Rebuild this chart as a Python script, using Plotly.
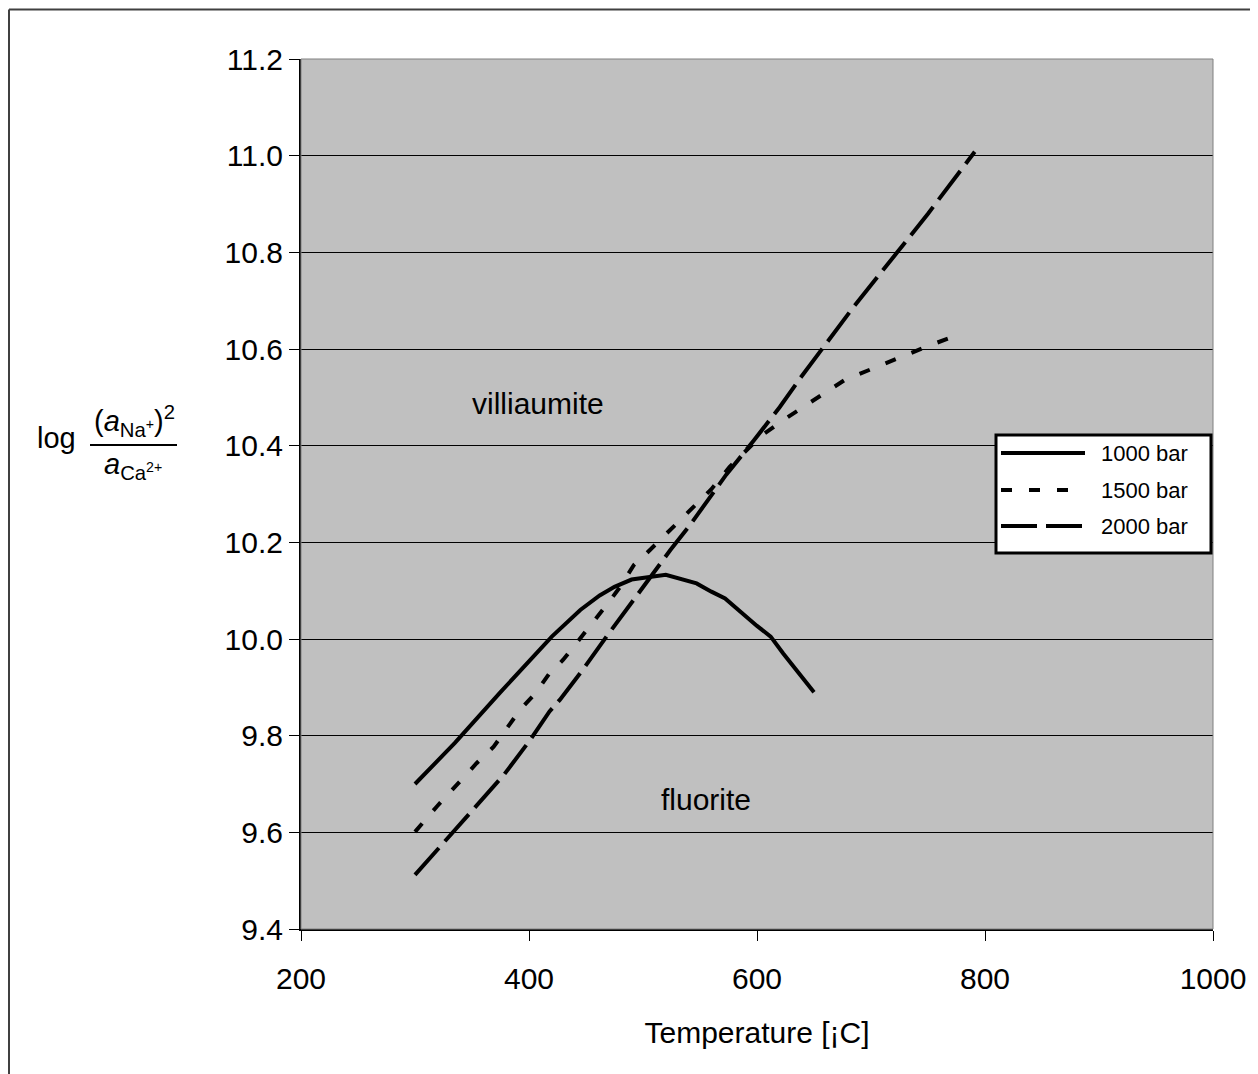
import plotly.graph_objects as go

# ---------------- data ----------------
series_names = ["1000 bar", "1500 bar", "2000 bar"]

t_1000 = [300, 335, 375, 400, 420, 445, 462, 475, 490, 520, 547, 560, 572, 600, 612, 623, 635, 650]
v_1000 = [9.70, 9.785, 9.89, 9.955, 10.005, 10.06, 10.09, 10.108, 10.123, 10.133, 10.115, 10.098,
          10.084, 10.027, 10.005, 9.97, 9.935, 9.89]

t_1500 = [300, 319, 342, 354, 369, 380, 392, 405, 418, 430, 445, 455, 468, 480, 492, 503, 515, 530,
          560, 576, 603, 623, 649, 677, 702, 727, 752, 781]
v_1500 = [9.601, 9.653, 9.712, 9.743, 9.777, 9.812, 9.853, 9.886, 9.929, 9.957, 10.001, 10.029, 10.07,
          10.108, 10.153, 10.177, 10.205, 10.24, 10.31, 10.356, 10.419, 10.453, 10.494, 10.536, 10.56,
          10.584, 10.608, 10.633]

t_2000 = [300, 322, 348, 366, 378, 401, 418, 427, 448, 468, 497, 524, 541, 573, 597, 620, 638, 667,
          685, 723, 750, 791]
v_2000 = [9.512, 9.57, 9.639, 9.688, 9.719, 9.791, 9.85, 9.874, 9.939, 10.005, 10.098, 10.184, 10.235,
          10.34, 10.41, 10.48, 10.54, 10.63, 10.688, 10.80, 10.88, 11.008]

x_ticks = [200, 400, 600, 800, 1000]
y_ticks = [9.4, 9.6, 9.8, 10.0, 10.2, 10.4, 10.6, 10.8, 11.0, 11.2]

region_labels = ["villiaumite", "fluorite"]
region_x = [408, 555]
region_y = [10.488, 9.667]

# ---------------- styling ----------------
W, H = 1258, 1074
OFF = 8  # page body margin
# plot area in page coordinates
L, R, T, B = 301, 1213, 59, 929
dashes = ["solid", "11px,17px", "36px,9px"]
FONT = "Liberation Sans, Arial, sans-serif"


def px(x):
    return (x - L) / (R - L)


def py(y):
    return (B - y) / (B - T)


fig = go.Figure()
for name, xs, ys, d in zip(series_names, [t_1000, t_1500, t_2000], [v_1000, v_1500, v_2000], dashes):
    fig.add_trace(go.Scatter(x=xs, y=ys, mode="lines", name=name, showlegend=False,
                             line=dict(color="black", width=4, dash=d)))

shapes = []
annotations = []

# plot-area border (grey)
shapes.append(dict(type="rect", xref="paper", yref="paper", x0=0, x1=1, y0=0, y1=1,
                   line=dict(color="#808080", width=1), layer="above"))

# outer frame (page coordinates)
shapes.append(dict(type="line", xref="paper", yref="paper", x0=px(9), x1=px(1400), y0=py(9.5), y1=py(9.5),
                   line=dict(color="#404040", width=2)))
shapes.append(dict(type="line", xref="paper", yref="paper", x0=px(9), x1=px(9), y0=py(9.5), y1=py(1200),
                   line=dict(color="#404040", width=2)))

# legend drawn from the series lists
lx0, lx1, ly0, ly1 = 996, 1211, 435, 553
shapes.append(dict(type="rect", xref="paper", yref="paper", x0=px(lx0), x1=px(lx1), y0=py(ly1), y1=py(ly0),
                   fillcolor="white", line=dict(color="black", width=3), layer="above"))
row_y = [453, 490, 526]
for name, d, ry in zip(series_names, dashes, row_y):
    shapes.append(dict(type="line", xref="paper", yref="paper", x0=px(1001), x1=px(1085), y0=py(ry), y1=py(ry),
                       line=dict(color="black", width=4, dash=d), layer="above"))
    annotations.append(dict(xref="paper", yref="paper", x=px(1099), y=py(ry), text=name, showarrow=False,
                            xanchor="left", yanchor="middle", font=dict(family=FONT, size=22, color="black")))

# region labels
for txt, rx, ry in zip(region_labels, region_x, region_y):
    annotations.append(dict(x=rx, y=ry, xref="x", yref="y", text=txt, showarrow=False,
                            font=dict(family=FONT, size=30, color="black")))

# y-axis label: log (a_Na+)^2 / a_Ca2+
annotations.append(dict(xref="paper", yref="paper", x=px(56), y=py(438), text="log", showarrow=False,
                        xanchor="center", yanchor="middle", font=dict(family=FONT, size=29, color="black")))
annotations.append(dict(xref="paper", yref="paper", x=px(134), y=py(443),
                        text="(<i>a</i><sub>Na<sup>+</sup></sub>)<sup>2</sup>", showarrow=False,
                        xanchor="center", yanchor="bottom", font=dict(family=FONT, size=29, color="black")))
annotations.append(dict(xref="paper", yref="paper", x=px(133), y=py(446),
                        text="<i>a</i><sub>Ca<sup>2+</sup></sub>", showarrow=False,
                        xanchor="center", yanchor="top", font=dict(family=FONT, size=29, color="black")))
shapes.append(dict(type="line", xref="paper", yref="paper", x0=px(90), x1=px(177), y0=py(445), y1=py(445),
                   line=dict(color="black", width=2)))

fig.update_layout(
    width=W, height=H,
    margin=dict(l=L - OFF, r=W - (R - OFF), t=T - OFF, b=H - (B - OFF)),
    paper_bgcolor="white",
    plot_bgcolor="#C0C0C0",
    font=dict(family=FONT, size=30, color="black"),
    shapes=shapes,
    annotations=annotations,
    xaxis=dict(range=[200, 1000], tickvals=x_ticks, ticktext=[str(v) for v in x_ticks],
               showgrid=False, zeroline=False, showline=True, linecolor="black", linewidth=2,
               ticks="outside", ticklen=10, tickcolor="black", tickwidth=1,
               ticklabelstandoff=12,
               title=dict(text="Temperature [¡C]", standoff=28, font=dict(size=30))),
    yaxis=dict(range=[9.4, 11.2], tickvals=y_ticks, ticktext=[f"{v:.1f}" for v in y_ticks],
               showgrid=True, gridcolor="black", gridwidth=1, zeroline=False,
               showline=True, linecolor="black", linewidth=2,
               ticks="outside", ticklen=10, tickcolor="black", tickwidth=1),
)

fig.write_html("out.html")
